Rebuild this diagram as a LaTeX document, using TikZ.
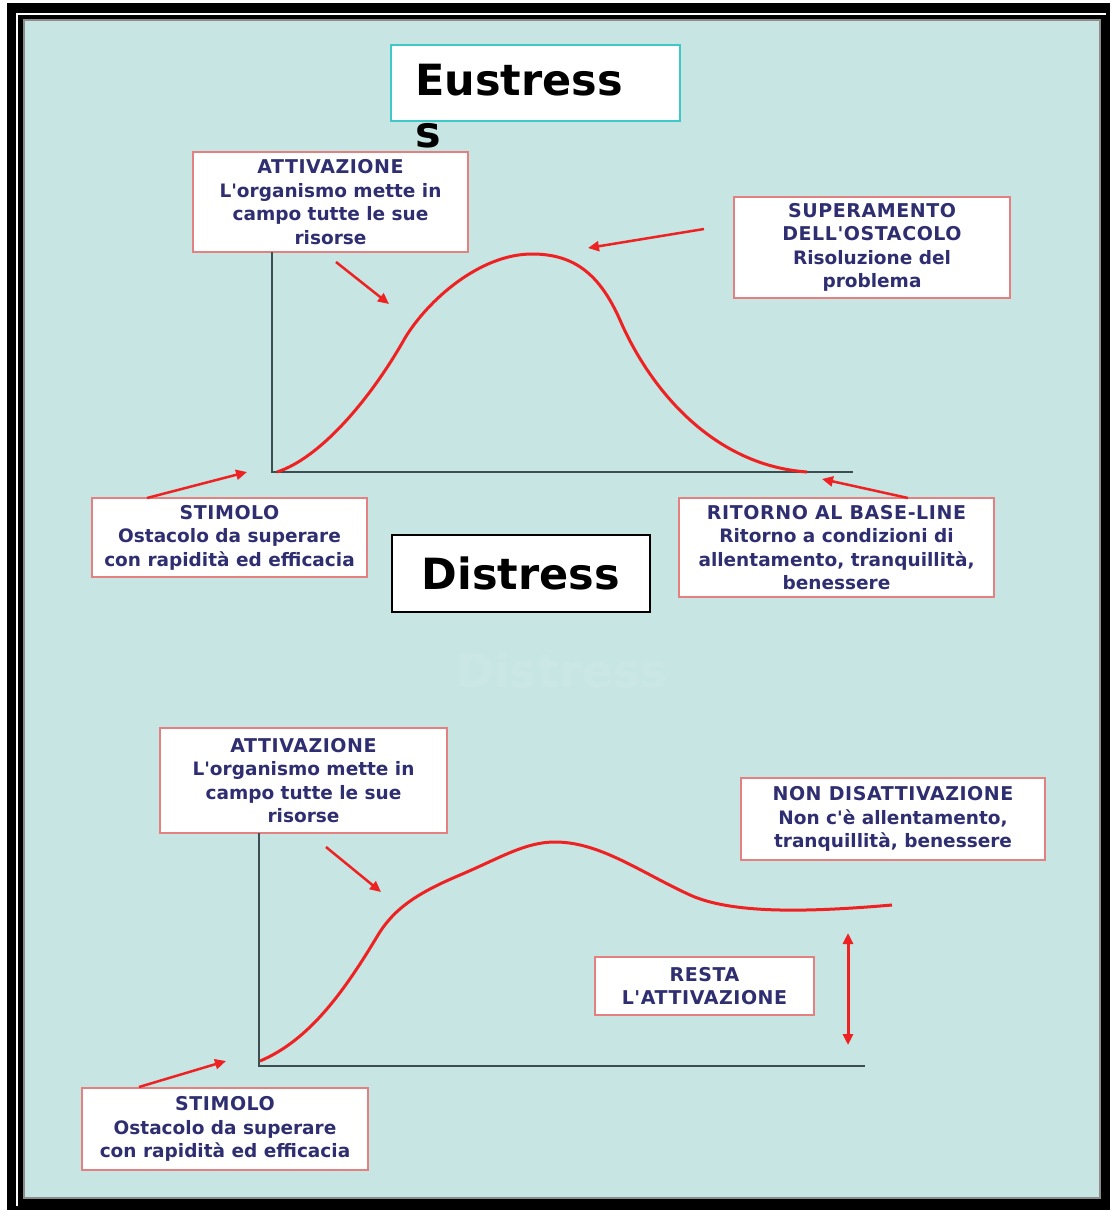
\documentclass[tikz,border=0pt]{standalone}
\usepackage{fontspec}
\setmainfont{DejaVu Sans}
\newfontfamily\zeilenfont{DejaVu Sans}
\newfontfamily\kopffont[LetterSpace=3]{DejaVu Sans}
\newcommand{\kopf}[1]{{\kopffont\bfseries\fontsize{19}{23.5}\selectfont #1}}
\usetikzlibrary{arrows.meta}
\definecolor{hgrund}{RGB}{198,229,227}
\definecolor{tinte}{RGB}{46,46,112}
\definecolor{rand}{RGB}{228,128,128}
\definecolor{kurve}{RGB}{238,34,34}
\definecolor{achse}{RGB}{60,78,82}
\definecolor{tuerkis}{RGB}{64,200,200}

\begin{document}
\begin{tikzpicture}[x=1pt, y=-1pt,
    kasten/.style={draw=rand, line width=1.5pt, fill=white, text=tinte,
      font=\zeilenfont\bfseries\fontsize{18.5}{23.5}\selectfont, align=center, inner sep=0pt},
    titel/.style={font=\bfseries\fontsize{43}{50}\selectfont, text=black, inner sep=0pt},
    rot/.style={draw=kurve, line width=3pt},
    pfeil/.style={->, draw=kurve, line width=2.5pt},
    achsen/.style={draw=achse, line width=2pt},
    >={Triangle[length=11pt,width=10pt]}]
    \useasboundingbox (0,0) rectangle (1112,1213);

    % Rahmen
    \fill[white] (0,0) rectangle (1112,1213);
    \fill[black] (7,3) rectangle (1110,1210);
    \draw[white, line width=1.5pt] (17,1206) -- (17,14) -- (1106,14);
    \fill[hgrund] (23,19) rectangle (1101,1199);
    \draw[black!45, line width=2pt] (24,20) rectangle (1100,1198);

    % Titel
    \node[draw=tuerkis, line width=2pt, fill=white, minimum width=289pt, minimum height=76pt] (eu) at (535.5,83) {};
    \node[titel, anchor=base west] (eut) at (415,95) {Eustress};
    \node[titel, anchor=base west] (eus) at (415,147) {s};
    \node[titel, draw=black, line width=2pt, fill=white, minimum width=258pt, minimum height=77pt] (dis) at (521,573.5) {Distress};
    \node[titel, font=\bfseries\fontsize{46}{50}\selectfont, text=white, opacity=0.1] (geist) at (562,670) {Distress};

    % Kästen oben
    \node[kasten, minimum width=275pt, minimum height=100pt] (att1) at (330.5,202)
      {\kopf{ATTIVAZIONE}\\L'organismo mette in\\campo tutte le sue\\risorse};
    \node[kasten, minimum width=276pt, minimum height=101pt] (sup) at (872,247.5)
      {\kopf{SUPERAMENTO}\\\kopf{DELL'OSTACOLO}\\Risoluzione del\\problema};
    \node[kasten, minimum width=275pt, minimum height=79pt] (stim1) at (229.5,537.5)
      {\kopf{STIMOLO}\\Ostacolo da superare\\con rapidità ed efficacia};
    \node[kasten, minimum width=315pt, minimum height=99pt] (rit) at (836.5,547.5)
      {\kopf{RITORNO AL BASE-LINE}\\Ritorno a condizioni di\\allentamento, tranquillità,\\benessere};

    % Kästen unten
    \node[kasten, minimum width=287pt, minimum height=105pt] (att2) at (303.5,780.5)
      {\kopf{ATTIVAZIONE}\\L'organismo mette in\\campo tutte le sue\\risorse};
    \node[kasten, minimum width=304pt, minimum height=82pt] (non) at (893,819)
      {\kopf{NON DISATTIVAZIONE}\\Non c'è allentamento,\\tranquillità, benessere};
    \node[kasten, minimum width=219pt, minimum height=58pt] (resta) at (704.5,986)
      {\kopf{RESTA}\\\kopf{L'ATTIVAZIONE}};
    \node[kasten, minimum width=286pt, minimum height=82pt] (stim2) at (225,1129)
      {\kopf{STIMOLO}\\Ostacolo da superare\\con rapidità ed efficacia};

    % Achsen
    \coordinate (y1) at (272,252);
    \coordinate (o1) at (272,472);
    \coordinate (x1) at (853,472);
    \draw[achsen] (y1) -- (o1) -- (x1);
    \coordinate (y2) at (259,833);
    \coordinate (o2) at (259,1066);
    \coordinate (x2) at (865,1066);
    \draw[achsen] (y2) -- (o2) -- (x2);

    % Kurven
    \draw[rot] (277,472) .. controls (320,458) and (370,400) .. (405,338)
      .. controls (428,300) and (480,254) .. (532,254)
      .. controls (575,254) and (600,275) .. (620,320)
      .. controls (648,385) and (710,465) .. (807,472);
    \draw[rot] (260,1061) .. controls (310,1040) and (345,990) .. (378,935)
      .. controls (395,907) and (420,892) .. (460,875)
      .. controls (500,858) and (525,842) .. (555,842)
      .. controls (600,842) and (640,872) .. (690,895)
      .. controls (730,913) and (800,913) .. (892,905);

    % Pfeile
    \coordinate (a1) at (336,262);
    \coordinate (a1e) at (389,304);
    \coordinate (s1) at (704,229);
    \coordinate (s1e) at (588,248);
    \coordinate (t1) at (147,498);
    \coordinate (t1e) at (247,472);
    \coordinate (r1) at (908,498);
    \coordinate (r1e) at (822,479);
    \coordinate (a2) at (326,847);
    \coordinate (a2e) at (381,892);
    \coordinate (t2) at (139,1087);
    \coordinate (t2e) at (226,1061);
    \coordinate (d1) at (848,933);
    \coordinate (d2) at (848,1045);
    \draw[pfeil] (a1) -- (a1e);
    \draw[pfeil] (s1) -- (s1e);
    \draw[pfeil] (t1) -- (t1e);
    \draw[pfeil] (r1) -- (r1e);
    \draw[pfeil] (a2) -- (a2e);
    \draw[pfeil] (t2) -- (t2e);
    \draw[pfeil, <->, line width=3pt] (d1) -- (d2);
\end{tikzpicture}
\end{document}
